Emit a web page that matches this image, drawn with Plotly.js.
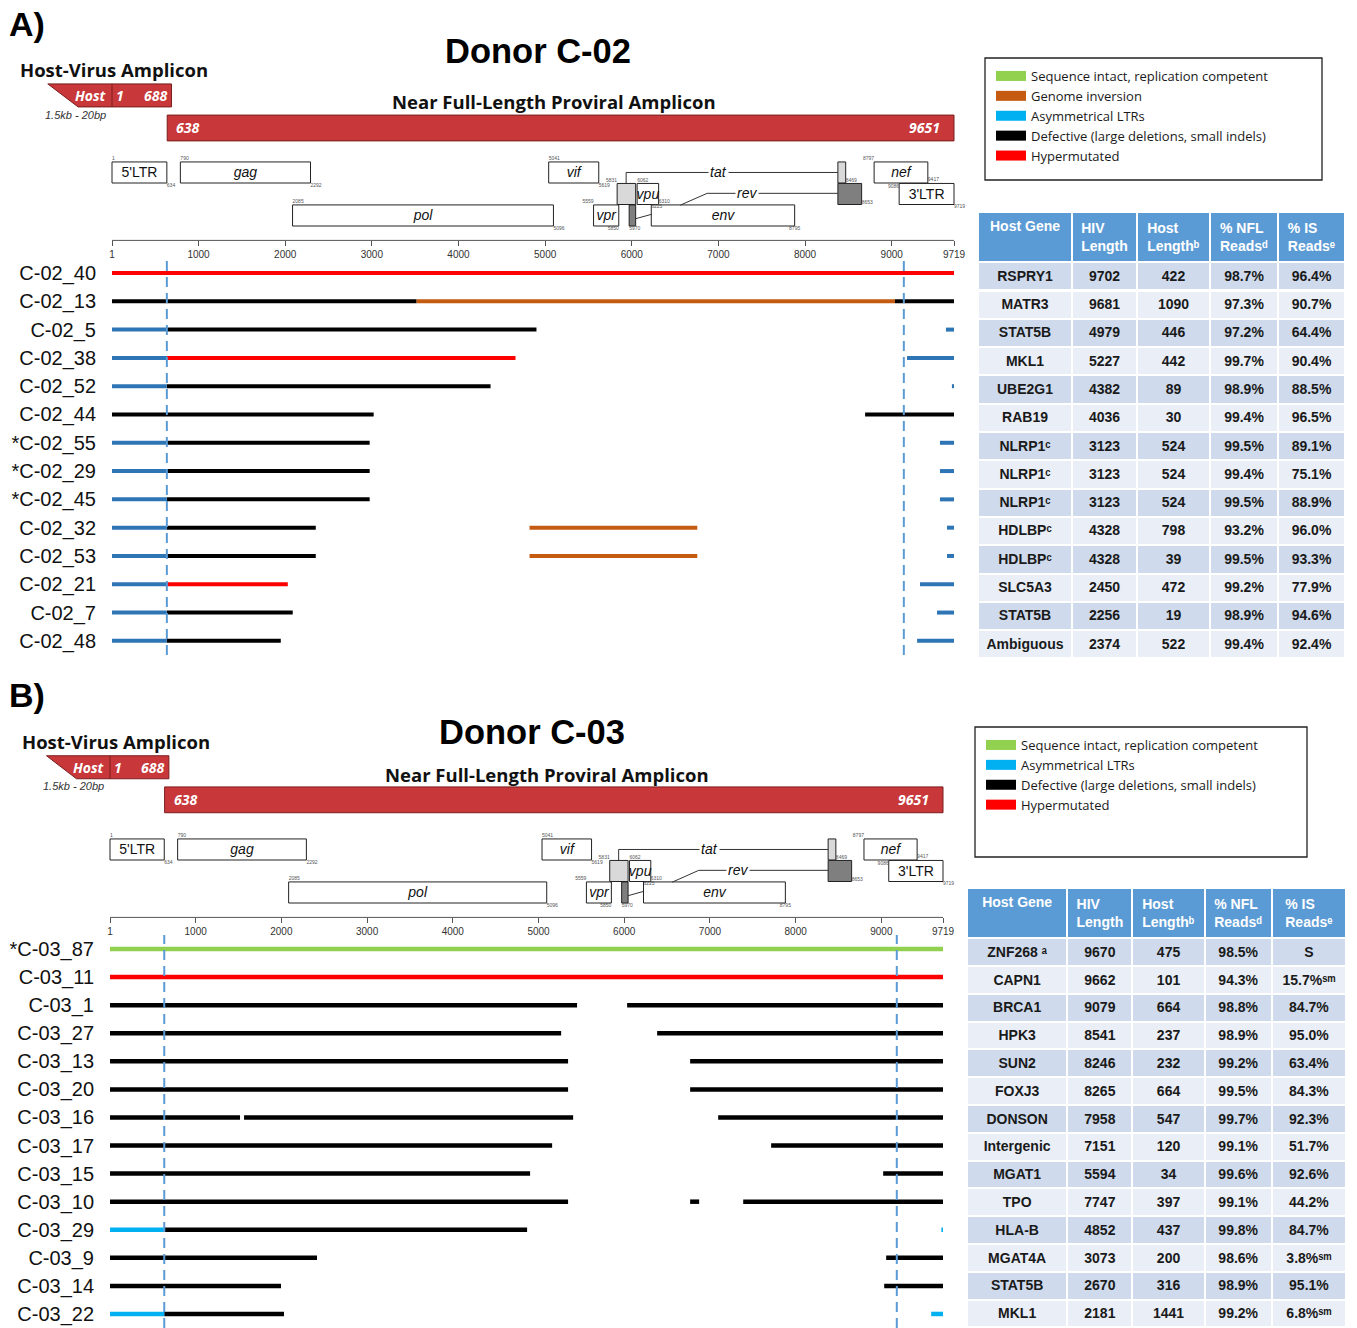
<!DOCTYPE html>
<html><head><meta charset="utf-8">
<script src="https://cdn.plot.ly/plotly-3.0.1.min.js"></script>
<style>html,body{margin:0;padding:0;background:#fff}#chart{width:1357px;height:1328px}</style>
</head><body><div id="chart"></div>
<script>
const W = 1357, H = 1328;

// ================= DATA =================
const categoryKeys  = ['int', 'inv', 'asym', 'def', 'hyp'];
const categoryNames = ['Sequence intact, replication competent', 'Genome inversion', 'Asymmetrical LTRs',
                       'Defective (large deletions, small indels)', 'Hypermutated'];

const genomeTicks = [1, 1000, 2000, 3000, 4000, 5000, 6000, 7000, 8000, 9000, 9719];
const genomeLength = 9719;

// Panel A rows and segments [rowIndex, start, end, category]
const rowsA = ['C-02_40', 'C-02_13', 'C-02_5', 'C-02_38', 'C-02_52', 'C-02_44', '*C-02_55', '*C-02_29',
               '*C-02_45', 'C-02_32', 'C-02_53', 'C-02_21', 'C-02_7', 'C-02_48'];
const segmentsA = [
  [0, 1, 9719, 'hyp'],
  [1, 1, 3517, 'def'], [1, 3517, 9038, 'inv'], [1, 9038, 9719, 'def'],
  [2, 1, 634, 'asym'], [2, 634, 4900, 'def'], [2, 9626, 9719, 'asym'],
  [3, 1, 634, 'asym'], [3, 634, 4658, 'hyp'], [3, 9177, 9719, 'asym'],
  [4, 1, 634, 'asym'], [4, 634, 4370, 'def'], [4, 9695, 9719, 'asym'],
  [5, 1, 3021, 'def'], [5, 8693, 9719, 'def'],
  [6, 1, 634, 'asym'], [6, 634, 2975, 'def'], [6, 9557, 9719, 'asym'],
  [7, 1, 634, 'asym'], [7, 634, 2975, 'def'], [7, 9557, 9719, 'asym'],
  [8, 1, 634, 'asym'], [8, 634, 2975, 'def'], [8, 9557, 9719, 'asym'],
  [9, 1, 634, 'asym'], [9, 634, 2353, 'def'], [9, 4820, 6756, 'inv'], [9, 9638, 9719, 'asym'],
  [10, 1, 634, 'asym'], [10, 634, 2353, 'def'], [10, 4820, 6756, 'inv'], [10, 9638, 9719, 'asym'],
  [11, 1, 634, 'asym'], [11, 634, 2030, 'hyp'], [11, 9327, 9719, 'asym'],
  [12, 1, 634, 'asym'], [12, 634, 2087, 'def'], [12, 9523, 9719, 'asym'],
  [13, 1, 634, 'asym'], [13, 634, 1949, 'def'], [13, 9293, 9719, 'asym']
];

// Panel B rows and segments
const rowsB = ['*C-03_87', 'C-03_11', 'C-03_1', 'C-03_27', 'C-03_13', 'C-03_20', 'C-03_16', 'C-03_17',
               'C-03_15', 'C-03_10', 'C-03_29', 'C-03_9', 'C-03_14', 'C-03_22'];
const segmentsB = [
  [0, 1, 9719, 'int'],
  [1, 1, 9719, 'hyp'],
  [2, 1, 5450, 'def'], [2, 6034, 9719, 'def'],
  [3, 1, 5264, 'def'], [3, 6384, 9719, 'def'],
  [4, 1, 5345, 'def'], [4, 6769, 9719, 'def'],
  [5, 1, 5345, 'def'], [5, 6769, 9719, 'def'],
  [6, 1, 1518, 'def'], [6, 1565, 5404, 'def'], [6, 7096, 9719, 'def'],
  [7, 1, 5159, 'def'], [7, 7714, 9719, 'def'],
  [8, 1, 4902, 'def'], [8, 9021, 9719, 'def'],
  [9, 1, 5345, 'def'], [9, 6769, 6874, 'def'], [9, 7388, 9719, 'def'],
  [10, 1, 634, 'asym'], [10, 634, 4867, 'def'], [10, 9700, 9719, 'asym'],
  [11, 1, 2416, 'def'], [11, 9056, 9719, 'def'],
  [12, 1, 1996, 'def'], [12, 9033, 9719, 'def'],
  [13, 1, 634, 'asym'], [13, 634, 2031, 'def'], [13, 9581, 9719, 'asym']
];

// LTR boundaries (dashed guides)
const ltrGuidesA = [634, 9140];
const ltrGuidesB = [634, 9180];

// Amplicons
const hostAmplicon = [-740, -390, 1, 688];   // host top-left, host bottom-left, viral start, viral end
const nflAmplicon = [638, 9719];
const nflAmpliconLabels = ['638', '9651'];

// HXB2 genome map
const geneLabel = ["5'LTR", 'gag', 'vif', 'nef', 'pol', 'vpr', 'env', 'vpu', "3'LTR", '', '', '', ''];
const geneStart = [1, 790, 5041, 8797, 2085, 5559, 6225, 6062, 9086, 5831, 5970, 8379, 8379];
const geneEnd   = [634, 2292, 5619, 9417, 5096, 5850, 7880, 6310, 9719, 6045, 6045, 8469, 8653];
const geneLane  = [0, 0, 0, 0, 2, 2, 2, 1, 1, 1, 2, 0, 1];
const geneType  = ['ltr', 'gene', 'gene', 'gene', 'gene', 'gene', 'gene', 'gene', 'ltr', 'tat', 'rev', 'tat', 'rev'];
const coordText = ['1', '634', '790', '2292', '5041', '5619', '2085', '5096', '5559', '5850', '5970', '5831',
                   '6062', '6225', '6310', '8795', '8797', '9086', '9417', '8469', '8653', '9719'];
const coordPos  = [1, 634, 790, 2292, 5041, 5619, 2085, 5096, 5559, 5850, 5970, 5831,
                   6062, 6225, 6310, 7880, 8797, 9086, 9417, 8469, 8653, 9719];
const coordLane = [-0.5, 0.5, -0.5, 0.5, -0.5, 0.5, 1.5, 2.5, 1.5, 2.5, 2.5, 0.5,
                   0.5, 1.5, 1.5, 2.5, -0.5, 0.55, 0.45, 0.5, 1.4, 1.5];
const coordAnchor = ['top right', 'bottom right', 'top right', 'bottom right', 'top right', 'bottom right',
                     'top right', 'bottom right', 'top left', 'bottom left', 'bottom right', 'top left',
                     'top right', 'bottom right', 'top right', 'bottom center', 'top left', 'bottom left',
                     'top right', 'top right', 'middle right', 'bottom right'];
const tatLinkX = [5935, 5935, 8379], tatLinkLane = [0.5, 0, 0];
const revLinkX = [6560, 6870, 8379], revLinkLane = [1.52, 0.97, 0.97];
const revHookX = [6045, 6225], revHookLane = [2.15, 1.95];
const tatLabelPos = [7000, 0], revLabelPos = [7330, 0.97];

// Tables (superscripts as Unicode modifier letters)
const tableHeader = ['Host Gene', 'HIV<br>Length', 'Host<br>Length\u1D47', '% NFL<br>Reads\u1D48', '% IS<br>Reads\u1D49'];
const hostGeneA = ['RSPRY1', 'MATR3', 'STAT5B', 'MKL1', 'UBE2G1', 'RAB19', 'NLRP1\u1D9C', 'NLRP1\u1D9C',
                   'NLRP1\u1D9C', 'HDLBP\u1D9C', 'HDLBP\u1D9C', 'SLC5A3', 'STAT5B', 'Ambiguous'];
const hivLengthA  = [9702, 9681, 4979, 5227, 4382, 4036, 3123, 3123, 3123, 4328, 4328, 2450, 2256, 2374];
const hostLengthA = [422, 1090, 446, 442, 89, 30, 524, 524, 524, 798, 39, 472, 19, 522];
const nflReadsA = ['98.7%', '97.3%', '97.2%', '99.7%', '98.9%', '99.4%', '99.5%', '99.4%', '99.5%', '93.2%', '99.5%', '99.2%', '98.9%', '99.4%'];
const isReadsA  = ['96.4%', '90.7%', '64.4%', '90.4%', '88.5%', '96.5%', '89.1%', '75.1%', '88.9%', '96.0%', '93.3%', '77.9%', '94.6%', '92.4%'];

const hostGeneB = ['ZNF268\u00A0\u1D43', 'CAPN1', 'BRCA1', 'HPK3', 'SUN2', 'FOXJ3', 'DONSON', 'Intergenic',
                   'MGAT1', 'TPO', 'HLA-B', 'MGAT4A', 'STAT5B', 'MKL1'];
const hivLengthB  = [9670, 9662, 9079, 8541, 8246, 8265, 7958, 7151, 5594, 7747, 4852, 3073, 2670, 2181];
const hostLengthB = [475, 101, 664, 237, 232, 664, 547, 120, 34, 397, 437, 200, 316, 1441];
const nflReadsB = ['98.5%', '94.3%', '98.8%', '98.9%', '99.2%', '99.5%', '99.7%', '99.1%', '99.6%', '99.1%', '99.8%', '98.6%', '98.9%', '99.2%'];
const isReadsB  = ['S', '15.7%\u02E2\u1D50', '84.7%', '95.0%', '63.4%', '84.3%', '92.3%', '51.7%', '92.6%', '44.2%', '84.7%', '3.8%\u02E2\u1D50', '95.1%', '6.8%\u02E2\u1D50'];

// ================= STYLE / LAYOUT =================
const legendColors = {int: '#92D050', inv: '#C55A11', asym: '#00B0F0', def: '#000000', hyp: '#FF0000'};
const RED = '#C8373A', DARKRED = '#7A1E1E';
const px2x = v => v / W;
const px2y = v => 1 - v / H;
const axKey = (id, c) => c + 'axis' + (id.length > 1 ? id.slice(1) : '');
const mapRange = [3.16, -5.2];

const panels = [
  {
    rows: rowsA, segments: segmentsA, guides: ltrGuidesA,
    colors: {int: '#92D050', inv: '#C55A11', asym: '#2E75B6', def: '#000000', hyp: '#FF0000'},
    lineWidth: 4, x: 'x', yRows: 'y', yMap: 'y2',
    xDom: [40, 960], xRange: [-830, 9788.3], yRowsDom: [258, 655], yRowsRange: [13.5, -0.53],
    yMapDom: [60.7, 240.4], rowsAxisPos: 112, ampShift: 0,
    legend: 'legend', legendCats: ['int', 'inv', 'asym', 'def', 'hyp'],
    legendBox: [985, 58, 1322, 180], legendPos: [991, 61],
    letter: 'A)', letterPos: [7, 24], donor: 'Donor C-02', donorPos: [538, 51],
    hvPos: [18, 70], nflTitlePos: [554, 102],
    table: {cols: [hostGeneA, hivLengthA, hostLengthA, nflReadsA, isReadsA], x: [978, 1345], y: [212, 660],
            widths: [94, 65, 73, 68, 67], headH: 49, cellH: 28.3}
  },
  {
    rows: rowsB, segments: segmentsB, guides: ltrGuidesB,
    colors: {int: '#92D050', inv: '#C55A11', asym: '#00B0F0', def: '#000000', hyp: '#FF0000'},
    lineWidth: 4.5, x: 'x2', yRows: 'y3', yMap: 'y4',
    xDom: [38, 960], xRange: [-839, 9917.3], yRowsDom: [935, 1328], yRowsRange: [13.5, -0.5],
    yMapDom: [737.7, 917.4], rowsAxisPos: 110, ampShift: -0.24,
    legend: 'legend2', legendCats: ['int', 'asym', 'def', 'hyp'],
    legendBox: [975, 727, 1307, 857], legendPos: [981, 730],
    letter: 'B)', letterPos: [7, 695], donor: 'Donor C-03', donorPos: [532, 732],
    hvPos: [20, 742], nflTitlePos: [547, 774],
    table: {cols: [hostGeneB, hivLengthB, hostLengthB, nflReadsB, isReadsB], x: [967, 1346], y: [888, 1328],
            widths: [100, 65, 72, 67, 74], headH: 48, cellH: 27.8}
  }
];

const traces = [];
const shapes = [];
const annotations = [];
const layout = {
  width: W, height: H, margin: {l: 0, r: 0, t: 0, b: 0},
  paper_bgcolor: '#ffffff', plot_bgcolor: 'rgba(0,0,0,0)',
  showlegend: true, hovermode: false,
  font: {family: 'Liberation Sans, Arial, sans-serif', color: '#111'}
};

panels.forEach(p => {
  // ---- axes ----
  layout[axKey(p.x, 'x')] = {
    domain: [px2x(p.xDom[0]), px2x(p.xDom[1])], range: p.xRange, anchor: p.yMap,
    showgrid: false, zeroline: false, showline: false,
    ticks: 'outside', ticklen: 5, tickwidth: 1, tickcolor: '#555',
    tickmode: 'array', tickvals: genomeTicks, ticktext: genomeTicks.map(String),
    tickfont: {family: 'Liberation Sans, Arial', size: 10, color: '#333'}
  };
  layout[axKey(p.yRows, 'y')] = {
    domain: [px2y(p.yRowsDom[1]), px2y(p.yRowsDom[0])], range: p.yRowsRange,
    anchor: 'free', position: px2x(p.rowsAxisPos),
    showgrid: false, zeroline: false, showline: false,
    ticks: 'outside', ticklen: 12, tickcolor: 'rgba(0,0,0,0)',
    tickmode: 'array', tickvals: p.rows.map((r, i) => i), ticktext: p.rows,
    tickfont: {family: 'Liberation Sans, Arial', size: 20, color: '#111'}
  };
  layout[axKey(p.yMap, 'y')] = {
    domain: [px2y(p.yMapDom[1]), px2y(p.yMapDom[0])], range: mapRange, anchor: p.x,
    showgrid: false, zeroline: false, showline: false, showticklabels: false, ticks: ''
  };

  // ---- row segments, one trace per category ----
  ['def', 'inv', 'hyp', 'int', 'asym'].forEach(cat => {
    const xs = [], ys = [];
    p.segments.forEach(s => {
      if (s[3] === cat) { xs.push(s[1], s[2], null); ys.push(s[0], s[0], null); }
    });
    if (!xs.length) return;
    traces.push({
      type: 'scatter', mode: 'lines', x: xs, y: ys, xaxis: p.x, yaxis: p.yRows,
      line: {color: p.colors[cat], width: p.lineWidth}, connectgaps: false,
      showlegend: false, hoverinfo: 'skip'
    });
  });

  // ---- legend entries ----
  p.legendCats.forEach(cat => {
    traces.push({
      type: 'scatter', mode: 'lines', x: [null], y: [null], xaxis: p.x, yaxis: p.yRows,
      name: categoryNames[categoryKeys.indexOf(cat)], line: {color: legendColors[cat], width: 12},
      legend: p.legend, showlegend: true, hoverinfo: 'skip'
    });
  });
  layout[p.legend] = {
    x: px2x(p.legendPos[0]), y: px2y(p.legendPos[1]), xanchor: 'left', yanchor: 'top',
    bgcolor: 'rgba(0,0,0,0)', borderwidth: 0, traceorder: 'normal', itemwidth: 30, tracegroupgap: 0,
    font: {family: 'Open Sans, Liberation Sans, Arial', size: 13, color: '#1a1a1a'}
  };
  shapes.push({type: 'rect', xref: 'paper', yref: 'paper',
    x0: px2x(p.legendBox[0]), x1: px2x(p.legendBox[2]), y0: px2y(p.legendBox[3]), y1: px2y(p.legendBox[1]),
    line: {color: '#222', width: 1.3}, fillcolor: 'rgba(0,0,0,0)'});

  // ---- dashed LTR guides ----
  p.guides.forEach(g => shapes.push({
    type: 'line', xref: p.x, yref: p.yRows + ' domain', x0: g, x1: g, y0: 0, y1: 1,
    line: {color: '#5B9BD5', width: 2, dash: '10px,6px'}
  }));

  // ---- genome ruler ----
  shapes.push({type: 'line', xref: p.x, yref: p.yMap + ' domain', x0: 1, x1: genomeLength, y0: 0, y1: 0,
    line: {color: '#555', width: 1}, layer: 'below'});

  // ---- gene boxes (below the text labels) ----
  const fillFor = {ltr: '#ffffff', gene: '#ffffff', tat: '#D9D9D9', rev: '#7F7F7F'};
  geneStart.forEach((s, i) => shapes.push({
    type: 'rect', xref: p.x, yref: p.yMap, x0: s, x1: geneEnd[i],
    y0: geneLane[i] - 0.49, y1: geneLane[i] + 0.49, layer: 'below',
    fillcolor: fillFor[geneType[i]], line: {color: '#222', width: 1}
  }));
  const pathOf = (xs, ls) => xs.map((v, i) => (i ? 'L' : 'M') + v + ',' + ls[i]).join(' ');
  [[tatLinkX, tatLinkLane], [revLinkX, revLinkLane], [revHookX, revHookLane]].forEach(([xs, ls]) =>
    shapes.push({type: 'path', xref: p.x, yref: p.yMap, path: pathOf(xs, ls), layer: 'below',
                 line: {color: '#333', width: 1}}));
  annotations.push(
    {xref: p.x, yref: p.yMap, x: tatLabelPos[0], y: tatLabelPos[1], text: '<i>tat</i>', showarrow: false,
     bgcolor: '#fff', borderpad: 1, font: {size: 14, color: '#111'}},
    {xref: p.x, yref: p.yMap, x: revLabelPos[0], y: revLabelPos[1], text: '<i>rev</i>', showarrow: false,
     bgcolor: '#fff', borderpad: 1, font: {size: 14, color: '#111'}}
  );
  // gene labels
  const lblIdx = geneLabel.map((l, i) => i).filter(i => geneLabel[i]);
  traces.push({
    type: 'scatter', mode: 'text', xaxis: p.x, yaxis: p.yMap,
    x: lblIdx.map(i => (geneStart[i] + geneEnd[i]) / 2), y: lblIdx.map(i => geneLane[i] + 0.06),
    text: lblIdx.map(i => geneType[i] === 'ltr' ? geneLabel[i] : '<i>' + geneLabel[i] + '</i>'),
    textposition: 'middle center',
    textfont: {family: 'Liberation Sans, Arial', size: 14, color: '#111'},
    showlegend: false, hoverinfo: 'skip', cliponaxis: false
  });
  // tiny coordinates
  traces.push({
    type: 'scatter', mode: 'text', xaxis: p.x, yaxis: p.yMap,
    x: coordPos, y: coordLane, text: coordText, textposition: coordAnchor,
    textfont: {family: 'Liberation Sans, Arial', size: 5, color: '#555'},
    showlegend: false, hoverinfo: 'skip', cliponaxis: false
  });

  // ---- amplicons ----
  const hTop = -4.12 + p.ampShift, hBot = -3.05 + p.ampShift;
  const nTop = -2.67 + p.ampShift, nBot = -1.47 + p.ampShift;
  shapes.push({type: 'path', xref: p.x, yref: p.yMap,
    path: `M${hostAmplicon[0]},${hTop} L${hostAmplicon[3]},${hTop} L${hostAmplicon[3]},${hBot} L${hostAmplicon[1]},${hBot} Z`,
    fillcolor: RED, line: {color: DARKRED, width: 1}});
  shapes.push({type: 'line', xref: p.x, yref: p.yMap, x0: hostAmplicon[2], x1: hostAmplicon[2], y0: hTop, y1: hBot,
    line: {color: DARKRED, width: 1}});
  shapes.push({type: 'rect', xref: p.x, yref: p.yMap, x0: nflAmplicon[0], x1: nflAmplicon[1], y0: nTop, y1: nBot,
    fillcolor: RED, line: {color: DARKRED, width: 1}});
  const wFont = {family: 'Open Sans, Liberation Sans', size: 14, color: '#fff'};
  const hMid = (hTop + hBot) / 2, nMid = (nTop + nBot) / 2;
  annotations.push(
    {xref: p.x, yref: p.yMap, x: hostAmplicon[2], y: hMid, xanchor: 'right', xshift: -3, text: '<b><i>Host</i></b>', showarrow: false, font: wFont},
    {xref: p.x, yref: p.yMap, x: hostAmplicon[2], y: hMid, xanchor: 'left', xshift: 2, text: '<b><i>1</i></b>', showarrow: false, font: wFont},
    {xref: p.x, yref: p.yMap, x: hostAmplicon[3], y: hMid, xanchor: 'right', xshift: -3, text: '<b><i>688</i></b>', showarrow: false, font: wFont},
    {xref: p.x, yref: p.yMap, x: nflAmplicon[0], y: nMid, xanchor: 'left', xshift: 7, text: '<b><i>' + nflAmpliconLabels[0] + '</i></b>', showarrow: false, font: wFont},
    {xref: p.x, yref: p.yMap, x: nflAmplicon[1], y: nMid, xanchor: 'right', xshift: -12, text: '<b><i>' + nflAmpliconLabels[1] + '</i></b>', showarrow: false, font: wFont},
    {xref: p.x, yref: p.yMap, x: -420, y: hBot + 0.36, text: '<i>1.5kb - 20bp</i>', showarrow: false,
     font: {family: 'Liberation Sans, Arial', size: 11, color: '#333'}}
  );

  // ---- titles ----
  annotations.push(
    {xref: 'paper', yref: 'paper', x: px2x(p.letterPos[0]), y: px2y(p.letterPos[1]), xanchor: 'left', yanchor: 'middle',
     text: '<b>' + p.letter + '</b>', showarrow: false, font: {family: 'Liberation Sans, Arial', size: 34, color: '#000'}},
    {xref: 'paper', yref: 'paper', x: px2x(p.donorPos[0]), y: px2y(p.donorPos[1]), xanchor: 'center', yanchor: 'middle',
     text: '<b>' + p.donor + '</b>', showarrow: false, font: {family: 'Liberation Sans, Arial', size: 34.5, color: '#000'}},
    {xref: 'paper', yref: 'paper', x: px2x(p.hvPos[0]), y: px2y(p.hvPos[1]), xanchor: 'left', yanchor: 'middle',
     text: '<b>Host-Virus Amplicon</b>', showarrow: false, font: {family: 'Open Sans, Liberation Sans', size: 18.5, color: '#111'}},
    {xref: 'paper', yref: 'paper', x: px2x(p.nflTitlePos[0]), y: px2y(p.nflTitlePos[1]), xanchor: 'center', yanchor: 'middle',
     text: '<b>Near Full-Length Proviral Amplicon</b>', showarrow: false, font: {family: 'Open Sans, Liberation Sans', size: 18.5, color: '#111'}}
  );

  // ---- table ----
  const t = p.table;
  const nRows = t.cols[0].length;
  const rowFill = Array.from({length: nRows}, (_, i) => i % 2 === 0 ? '#CFDAEC' : '#E9EEF7');
  traces.push({
    type: 'table',
    domain: {x: [px2x(t.x[0]), px2x(t.x[1])], y: [px2y(t.y[1]), px2y(t.y[0])]},
    columnwidth: t.widths,
    header: {
      values: tableHeader, align: 'center', height: t.headH,
      fill: {color: '#5B9BD5'}, line: {color: '#ffffff', width: 2},
      font: {family: 'Liberation Sans, Arial', size: 14, color: '#ffffff', weight: 'bold'}
    },
    cells: {
      values: t.cols, align: 'center', height: t.cellH,
      fill: {color: t.cols.map(() => rowFill)}, line: {color: '#ffffff', width: 2},
      font: {family: 'Liberation Sans, Arial', size: 14, color: '#1a1a1a', weight: 'bold'}
    }
  });
});

layout.shapes = shapes;
layout.annotations = annotations;

Plotly.newPlot('chart', traces, layout, {displayModeBar: false, staticPlot: true});
</script>
</body></html>
